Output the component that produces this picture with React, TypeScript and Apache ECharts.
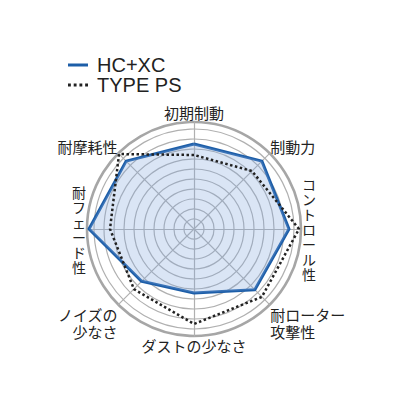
import React, { useEffect, useRef } from 'react';
import * as echarts from 'echarts';

// indicators, counter-clockwise from the top (echarts radar order)
const indicatorNames = ['初期制動', '耐摩耗性', '耐フェード性', 'ノイズの少なさ', 'ダストの少なさ', '耐ローター攻撃性', 'コントロール性', '制動力'];
const hcxcValues = [8.5, 9.6, 10.5, 7.4, 6.4, 8.6, 9.5, 9.6];
const typePsValues = [7.4, 10.6, 8.4, 8.5, 9.5, 9.6, 10.5, 8.2];
const seriesNames = ['HC+XC', 'TYPE PS'];

const LABEL_FONT = '"Noto Sans CJK JP", "Noto Sans", sans-serif';
const LABEL_COLOR = '#222';

const formatAxisName = (name: string): string => {
	switch (name) {
		case '耐フェード性':
		case 'コントロール性':
			// vertical writing: one character per line
			return name.split('').map(c => `{v|${c}}`).join('\n');
		case 'ノイズの少なさ':
			return `{g|}\n{m|ノイズの}\n{m|少なさ}`;
		case '耐ローター攻撃性':
			return `{g|}\n{m|耐ローター}\n{m|攻撃性}`;
		case '制動力':
		case '耐摩耗性':
			return `{n|${name}}\n{s|}`;
		default:
			return `{n|${name}}`;
	}
};

const App: React.FC = () => {
	const chartRef = useRef<HTMLDivElement>(null);

	useEffect(() => {
		if (!chartRef.current) return;
		const chart = echarts.init(chartRef.current, undefined, { renderer: 'svg' });

		const indicator = indicatorNames.map(name => ({ name, max: 10, min: 0 }));

		const option: echarts.EChartsOption = {
			animation: false,
			backgroundColor: '#fff',
			legend: {
				orient: 'vertical',
				left: 63,
				top: 50,
				itemWidth: 20,
				itemHeight: 3,
				itemGap: 0,
				selectedMode: false,
				itemStyle: { borderWidth: 0 },
				textStyle: {
					fontFamily: '"Liberation Sans", Arial, sans-serif',
					fontSize: 20,
					lineHeight: 19,
					color: '#222',
					padding: [0, 0, 0, 4]
				},
				data: [
					{ name: seriesNames[0], icon: 'rect', itemStyle: { color: '#1d5ea8' } },
					{
						name: seriesNames[1],
						icon: 'path://M0 0h2v2H0zM4 0h2v2H4zM8 0h2v2H8zM12 0h2v2h-2z',
						itemStyle: { color: '#222' }
					}
				]
			},
			radar: [
				{
					center: [194, 229],
					radius: 100,
					shape: 'circle',
					splitNumber: 10,
					indicator,
					nameGap: 8,
					axisName: {
						color: LABEL_COLOR,
						fontFamily: LABEL_FONT,
						fontSize: 15,
						formatter: (name?: string) => formatAxisName(name || ''),
						rich: {
							n: { fontSize: 15, fontFamily: LABEL_FONT, color: LABEL_COLOR, lineHeight: 17 },
							m: { fontSize: 15, fontFamily: LABEL_FONT, color: LABEL_COLOR, lineHeight: 17 },
							v: { fontSize: 14, fontFamily: LABEL_FONT, color: LABEL_COLOR, lineHeight: 15 },
							g: { fontSize: 15, lineHeight: 36 },
							s: { fontSize: 15, lineHeight: 12 }
						}
					},
					axisLine: { show: false },
					axisTick: { show: false },
					axisLabel: { show: false },
					splitArea: { show: false },
					splitLine: { lineStyle: { color: '#b0b0b0', width: 1.2 } }
				},
				{
					center: [194, 229],
					radius: 107,
					shape: 'circle',
					splitNumber: 1,
					indicator,
					axisName: { show: false },
					axisLine: { lineStyle: { color: '#b0b0b0', width: 1.2 } },
					axisTick: { show: false },
					axisLabel: { show: false },
					splitArea: { show: false },
					splitLine: { lineStyle: { color: '#a6a6a6', width: 2.6 } }
				}
			],
			series: [
				{
					type: 'radar',
					radarIndex: 0,
					symbol: 'none',
					data: [
						{
							name: seriesNames[0],
							value: hcxcValues,
							lineStyle: { color: '#1d5ea8', width: 3 },
							itemStyle: { color: '#1d5ea8' },
							areaStyle: { color: 'rgba(130, 165, 220, 0.42)' }
						},
						{
							name: seriesNames[1],
							value: typePsValues,
							lineStyle: { color: '#222', width: 2.5, type: [2.5, 2.5] },
							itemStyle: { color: '#222' }
						}
					]
				}
			]
		};

		chart.setOption(option);

		return () => {
			chart.dispose();
		};
	}, []);

	return (
		<div
			ref={chartRef}
			style={{ position: 'fixed', left: 0, top: 0, width: '400px', height: '409px' }}
		/>
	);
};

export default App;
